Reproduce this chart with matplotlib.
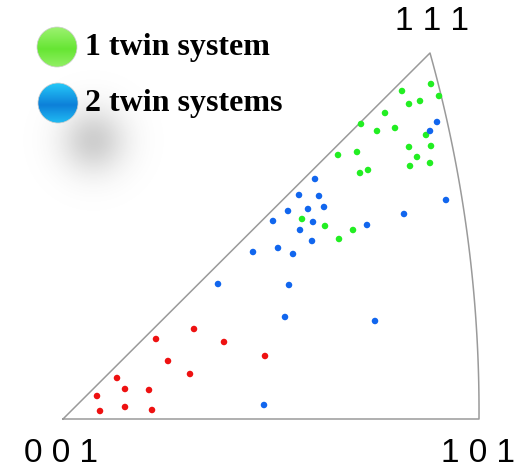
import matplotlib.pyplot as plt
import numpy as np
from matplotlib.patches import Circle

# points (image coordinates, y down)
green_x = [431, 402, 439, 409, 420, 385, 361, 377, 395, 426, 409, 431, 417, 410, 430, 338, 357, 360, 368, 302, 325, 353, 339]
green_y = [84, 91, 96, 104, 101, 113, 124, 131, 128, 135, 147, 146, 157, 166, 163, 155, 152, 173, 170, 219, 226, 230, 239]

blue_x = [437, 430, 315, 299, 319, 308, 324, 288, 273, 313, 300, 367, 404, 446, 312, 278, 293, 253, 218, 289, 285, 375, 264]
blue_y = [122, 131, 179, 195, 196, 209, 207, 211, 221, 222, 230, 225, 214, 200, 241, 248, 254, 252, 284, 285, 317, 321, 405]

red_x = [194, 156, 224, 168, 265, 190, 117, 125, 149, 97, 100, 125, 152]
red_y = [329, 339, 342, 361, 356, 374, 378, 389, 390, 396, 411, 407, 410]

corners = {'001': (63, 419), '101': (479, 419), '111': (430, 53)}
corner_labels = ['0 0 1', '1 0 1', '1 1 1']
legend_labels = ['1 twin system', '2 twin systems']

fig = plt.figure(figsize=(5.2, 4.69), dpi=100)
ax = fig.add_axes([0, 0, 1, 1])
ax.set_xlim(0, 520)
ax.set_ylim(469, 0)
ax.axis('off')

# soft grey shadow under the legend
yy, xx = np.mgrid[0:469, 0:520]
blob = np.exp(-(((xx - 93) ** 2 + (yy - 140) ** 2) / (2 * 23 ** 2)))
shadow = np.zeros((469, 520, 4))
shadow[..., :3] = 0.55
shadow[..., 3] = 0.42 * blob
ax.imshow(shadow, extent=(0, 520, 469, 0), zorder=0)

# triangle: two straight edges + arc from 101 to 111
p0, p1, p2 = corners['001'], corners['101'], corners['111']
mid = (468, 240)
# circle through 111, mid, 101
A = np.array([[2 * (mid[0] - p2[0]), 2 * (mid[1] - p2[1])],
              [2 * (p1[0] - p2[0]), 2 * (p1[1] - p2[1])]])
b = np.array([mid[0] ** 2 - p2[0] ** 2 + mid[1] ** 2 - p2[1] ** 2,
              p1[0] ** 2 - p2[0] ** 2 + p1[1] ** 2 - p2[1] ** 2])
cx, cy = np.linalg.solve(A, b)
r = np.hypot(p2[0] - cx, p2[1] - cy)
a0 = np.arctan2(p1[1] - cy, p1[0] - cx)
a1 = np.arctan2(p2[1] - cy, p2[0] - cx)
t = np.linspace(a0, a1, 100)
arc_x = cx + r * np.cos(t)
arc_y = cy + r * np.sin(t)
edge_x = [p0[0]] + list(arc_x) + [p0[0]]
edge_y = [p0[1]] + list(arc_y) + [p0[1]]
ax.plot(edge_x, edge_y, color='#9a9a9a', lw=1.1, zorder=1)

ax.scatter(green_x, green_y, s=22, color='#22ee22', edgecolors='none', zorder=3)
ax.scatter(blue_x, blue_y, s=22, color='#1166ee', edgecolors='none', zorder=3)
ax.scatter(red_x, red_y, s=22, color='#ee1111', edgecolors='none', zorder=3)

# corner labels
ax.text(61, 453, corner_labels[0], fontsize=24, family='Liberation Sans', ha='center', va='center')
ax.text(478, 453, corner_labels[1], fontsize=24, family='Liberation Sans', ha='center', va='center')
ax.text(432, 22, corner_labels[2], fontsize=24, family='Liberation Sans', ha='center', va='center')

# legend with shaded balls
def ball(x, y, top, bottom):
    c = Circle((x, y), 20, facecolor='none', edgecolor='#cccccc', lw=0.5, zorder=4)
    ax.add_patch(c)
    g = np.linspace(0, 1, 50)
    prof = 1 - np.abs(g - 0.55) / 0.55
    img = np.zeros((50, 1, 3))
    top, bottom = np.array(top), np.array(bottom)
    for i, v in enumerate(prof):
        img[i, 0] = top * (1 - v) + bottom * v
    im = ax.imshow(img, extent=(x - 21, x + 21, y + 21, y - 21), aspect='auto', zorder=3)
    im.set_clip_path(c)

ball(57, 47, (0.62, 0.95, 0.45), (0.40, 0.90, 0.20))
ball(58, 103, (0.15, 0.80, 0.98), (0.05, 0.50, 0.85))

ax.text(85, 48, legend_labels[0], fontsize=23, family='Liberation Serif', fontweight='bold', va='center')
ax.text(85, 103, legend_labels[1], fontsize=23, family='Liberation Serif', fontweight='bold', va='center')

fig.savefig('out.png', dpi=100)
